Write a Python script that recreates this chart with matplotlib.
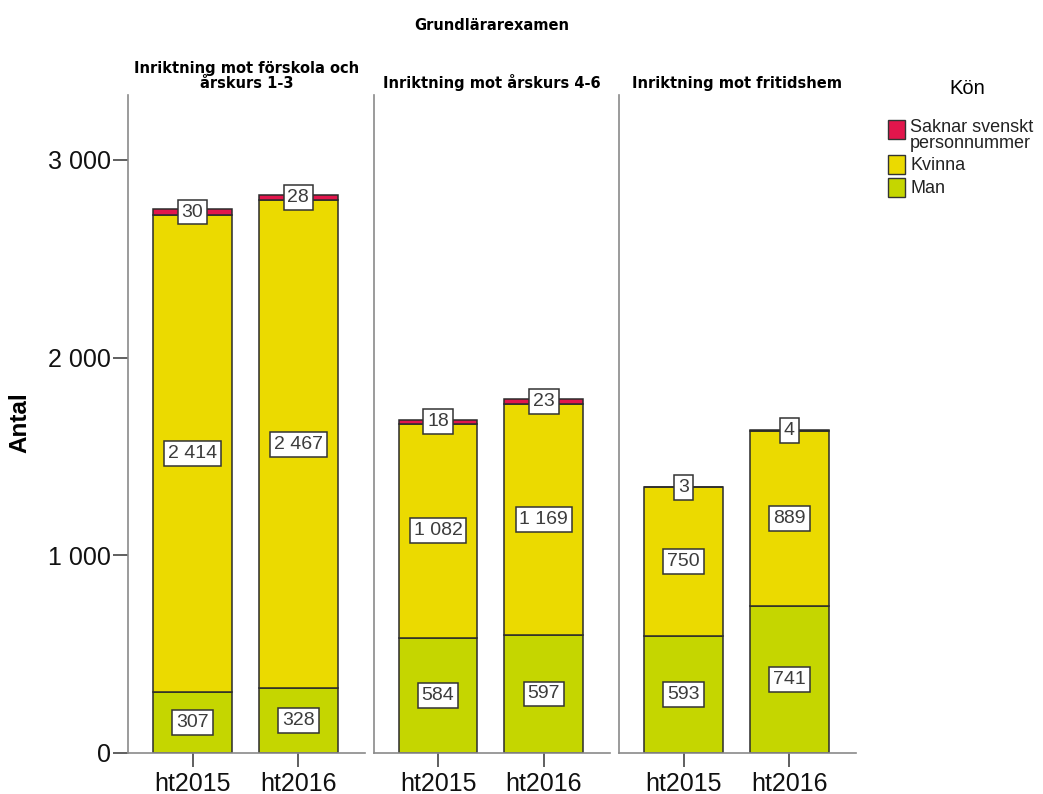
import matplotlib
matplotlib.use("Agg")
import matplotlib.pyplot as plt
from matplotlib.patches import Rectangle

# ---- data ----
panels = ["Inriktning mot förskola och\nårskurs 1-3",
          "Inriktning mot årskurs 4-6",
          "Inriktning mot fritidshem"]
terms = ["ht2015", "ht2016"]
man = [[307, 328], [584, 597], [593, 741]]
kvinna = [[2414, 2467], [1082, 1169], [750, 889]]
saknar = [[30, 28], [18, 23], [3, 4]]
series_names = ["Saknar svenskt\npersonnummer", "Kvinna", "Man"]
yticks = [0, 1000, 2000, 3000]

# ---- style ----
C_RED = "#E2164C"
C_YEL = "#EBDA00"
C_GRN = "#C5D600"
EDGE = "#2b2b2b"
SPINE = "#8a8a8a"
FONT = "Liberation Sans"
plt.rcParams["font.family"] = [FONT, "DejaVu Sans"]

W, H = 1043, 794
fig = plt.figure(figsize=(W / 100, H / 100), dpi=100)

def fx(px):
    return px / W

def fy(py):
    return 1 - py / H

lefts = [128, 373.5, 619]
pw = 236.5
top, bottom = 95, 753
ymax = 3328

def fmt(v):
    return f"{v:,}".replace(",", " ")

bw = 0.745
for i, name in enumerate(panels):
    ax = fig.add_axes([fx(lefts[i]), fy(bottom), fx(pw), (bottom - top) / H])
    xs = list(range(len(terms)))
    m = man[i]
    k = kvinna[i]
    s = saknar[i]
    bk = m
    bs = [a + b for a, b in zip(m, k)]
    ax.bar(xs, m, bw, color=C_GRN, edgecolor=EDGE, linewidth=1.1, zorder=2)
    ax.bar(xs, k, bw, bottom=bk, color=C_YEL, edgecolor=EDGE, linewidth=1.1, zorder=2)
    ax.bar(xs, s, bw, bottom=bs, color=C_RED, edgecolor=EDGE, linewidth=1.1, zorder=2)
    box = dict(boxstyle="square,pad=0.2", facecolor="white", edgecolor="#333333", linewidth=1.1)
    for j, x in enumerate(xs):
        for val, b in ((m[j], 0), (k[j], bk[j]), (s[j], bs[j])):
            ax.text(x, b + val / 2, fmt(val), ha="center", va="center",
                    fontsize=14, color="#3c3c3c", family=FONT, bbox=box, zorder=4)
    ax.set_xlim(-0.61, 1.625)
    ax.set_ylim(0, ymax)
    for sp in ("top", "right"):
        ax.spines[sp].set_visible(False)
    for sp in ("left", "bottom"):
        ax.spines[sp].set_color(SPINE)
        ax.spines[sp].set_linewidth(1.2)
    ax.set_xticks(xs)
    ax.set_xticklabels(terms, fontsize=18, family=FONT, color="#111111")
    ax.tick_params(axis="x", length=10, width=1.2, color="#444444", pad=3.5)
    if i == 0:
        ax.set_yticks(yticks)
        ax.set_yticklabels([fmt(v) for v in yticks], fontsize=18, family=FONT, color="#111111")
        ax.tick_params(axis="y", length=10.5, width=1.2, color="#444444", pad=1.5)
    else:
        ax.set_yticks([])
    ax.set_title(name, fontsize=10.5, fontweight="bold", family="DejaVu Sans",
                 pad=5, linespacing=1.0)

fig.text(fx(491.5), fy(25), "Grundlärarexamen", ha="center", va="center",
         fontsize=10.5, fontweight="bold", family="DejaVu Sans")
fig.text(fx(20), fy(423), "Antal", rotation=90, ha="center", va="center",
         fontsize=17.5, fontweight="bold", family=FONT)

# legend
fig.text(fx(967), fy(89), "Kön", ha="center", va="center", fontsize=14.5, family=FONT)
leg_cols = [C_RED, C_YEL, C_GRN]
sq_tops = [120, 155, 178]
txt_y = [120, 158, 181]
for c, t, ty, name in zip(leg_cols, sq_tops, txt_y, series_names):
    fig.add_artist(Rectangle((fx(888), fy(t + 18.5)), fx(17), 18.5 / H, transform=fig.transFigure,
                             facecolor=c, edgecolor="#333333", linewidth=1.0))
    fig.text(fx(910), fy(ty - 1), name, ha="left", va="top", fontsize=13,
             family=FONT, linespacing=0.95, color="#222222")

fig.savefig("out.png", dpi=100)
